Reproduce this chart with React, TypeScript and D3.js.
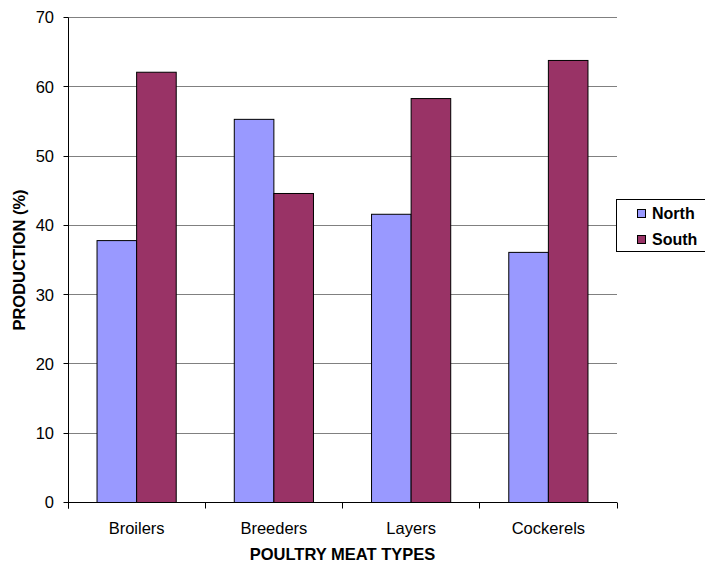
import React from "react";
import * as d3 from "d3";

// Poultry meat production share by region
const categories = ["Broilers", "Breeders", "Layers", "Cockerels"];
const seriesNames = ["North", "South"];
const northValues = [37.8, 55.3, 41.6, 36.1];
const southValues = [62.1, 44.6, 58.3, 63.8];
const yTicks = [0, 10, 20, 30, 40, 50, 60, 70];

const seriesColors: Record<string, string> = { North: "#9999FF", South: "#993366" };
const FONT = "Liberation Sans, Arial, Helvetica, sans-serif";

// snap a coordinate to the pixel grid so 1px lines stay crisp
const crisp = (v: number) => Math.round(v - 0.5) + 0.5;

export default function App() {
  const width = 705;
  const height = 564;
  const plot = { left: 68, right: 617, top: 17.5, bottom: 502.5 };

  const rows = categories.map((c, i) => ({
    category: c,
    North: northValues[i],
    South: southValues[i],
  }));

  const y = d3.scaleLinear().domain([0, 70]).range([plot.bottom, plot.top]);
  const x0 = d3
    .scaleBand<string>()
    .domain(categories)
    .range([plot.left, plot.right])
    .paddingInner(0.423)
    .paddingOuter(0.2115);
  const x1 = d3.scaleBand<string>().domain(seriesNames).range([0, x0.bandwidth()]);
  const step = x0.step();
  const boundaries = d3.range(categories.length + 1).map((i) => plot.left + i * step);
  const axisX = crisp(plot.left);

  return (
    <div style={{ position: "absolute", left: 0, top: 0 }}>
      <svg width={width} height={height} style={{ display: "block", background: "#fff" }}>
        {/* horizontal gridlines */}
        {yTicks
          .filter((t) => t > 0)
          .map((t) => (
            <line
              key={`g${t}`}
              x1={axisX}
              x2={plot.right}
              y1={crisp(y(t))}
              y2={crisp(y(t))}
              stroke="#808080"
              strokeWidth={1}
            />
          ))}

        {/* bars */}
        {rows.map((r) => (
          <g key={r.category} transform={`translate(${x0(r.category)},0)`}>
            {seriesNames.map((s) => {
              const v = (r as any)[s] as number;
              return (
                <rect
                  key={s}
                  x={x1(s)}
                  y={y(v)}
                  width={x1.bandwidth()}
                  height={y(0) - y(v)}
                  fill={seriesColors[s]}
                  stroke="#000"
                  strokeWidth={1}
                />
              );
            })}
          </g>
        ))}

        {/* y axis */}
        <line x1={axisX} x2={axisX} y1={plot.top} y2={crisp(y(0)) + 6} stroke="#000" strokeWidth={1} />
        {yTicks.map((t) => (
          <g key={`yt${t}`}>
            <line x1={axisX - 5} x2={axisX} y1={crisp(y(t))} y2={crisp(y(t))} stroke="#000" strokeWidth={1} />
            <text
              x={plot.left - 14}
              y={y(t)}
              dy="0.36em"
              textAnchor="end"
              fontFamily={FONT}
              fontSize={16.5}
              fill="#000"
            >
              {t}
            </text>
          </g>
        ))}

        {/* x axis */}
        <line x1={axisX} x2={plot.right} y1={crisp(y(0))} y2={crisp(y(0))} stroke="#000" strokeWidth={1} />
        {boundaries.map((bx, i) => (
          <line
            key={`xt${i}`}
            x1={crisp(bx)}
            x2={crisp(bx)}
            y1={crisp(y(0))}
            y2={crisp(y(0)) + 6}
            stroke="#000"
            strokeWidth={1}
          />
        ))}
        {categories.map((c) => (
          <text
            key={`xl${c}`}
            x={(x0(c) ?? 0) + x0.bandwidth() / 2}
            y={534}
            textAnchor="middle"
            fontFamily={FONT}
            fontSize={16.5}
            fill="#000"
          >
            {c}
          </text>
        ))}

        {/* axis titles */}
        <text
          x={(plot.left + plot.right) / 2}
          y={560}
          textAnchor="middle"
          fontFamily={FONT}
          fontSize={16.5}
          fontWeight="bold"
          fill="#000"
        >
          POULTRY MEAT TYPES
        </text>
        <text
          transform={`translate(25,${(plot.top + plot.bottom) / 2}) rotate(-90)`}
          textAnchor="middle"
          fontFamily={FONT}
          fontSize={16.5}
          fontWeight="bold"
          fill="#000"
        >
          PRODUCTION (%)
        </text>

        {/* legend */}
        <g>
          <rect x={616.5} y={199.5} width={90} height={52} fill="#fff" stroke="#000" strokeWidth={1} />
          {seriesNames.map((s, i) => (
            <g key={`lg${s}`} transform={`translate(0,${i * 26})`}>
              <rect x={637.5} y={209.5} width={8} height={8} fill={seriesColors[s]} stroke="#000" strokeWidth={1} />
              <text x={652} y={219} fontFamily={FONT} fontSize={16} fontWeight="bold" fill="#000">
                {s}
              </text>
            </g>
          ))}
        </g>
      </svg>
    </div>
  );
}
